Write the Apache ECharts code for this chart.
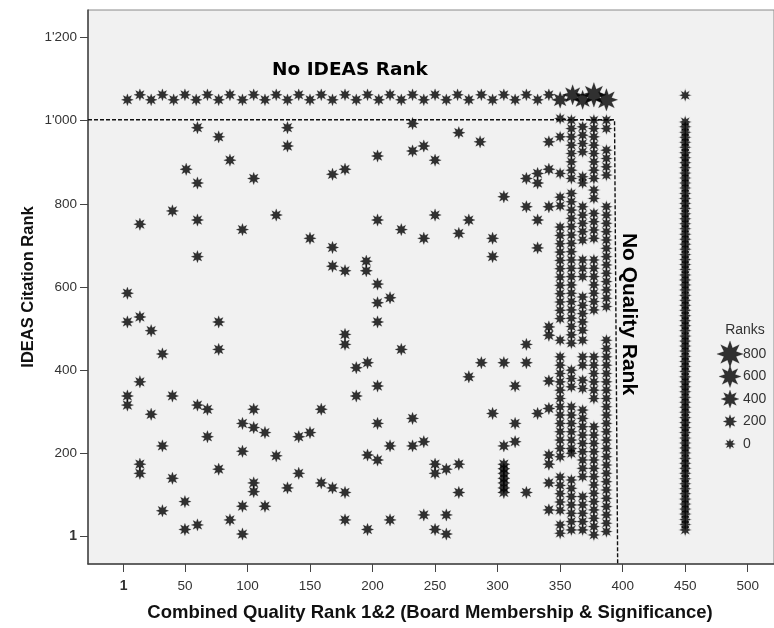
<!DOCTYPE html>
<html><head><meta charset="utf-8">
<script src="https://cdn.jsdelivr.net/npm/echarts@6/dist/echarts.min.js"></script>
<style>html,body{margin:0;padding:0;background:#fff}#c{width:774px;height:628px}</style>
</head><body><div id="c"></div>
<script>
// ---------- data ----------
const xTicks = [1, 50, 100, 150, 200, 250, 300, 350, 400, 450, 500];
const yTicks = [1, 200, 400, 600, 800, 1000, 1200];
const legendRanks = [800, 600, 400, 200, 0];

// cases without an IDEAS rank (top row)
const noIdeasX = [4,14,23,32,41,50,59,68,77,86,96,105,114,123,132,141,150,159,168,178,187,196,205,214,223,232,241,250,259,268,277,287,296,305,314,323,332,341,350,360,368,377,387];
const noIdeasY = [1050,1062,1050,1062,1050,1062,1050,1062,1050,1062,1050,1062,1050,1062,1050,1062,1050,1062,1050,1062,1050,1062,1050,1062,1050,1062,1050,1062,1050,1062,1050,1062,1050,1062,1050,1062,1050,1062,1050,1062,1050,1062,1050];
const noIdeasRank = [120,120,120,120,120,120,120,120,120,120,120,120,120,120,120,120,120,120,120,120,120,120,120,120,120,120,120,120,120,120,120,120,120,120,120,120,120,120,350,520,460,720,620];

// ranked cases (scattered)
const rankedPoints = [
 [4,585],[14,751],[40,783],[51,883],[60,983],[60,850],[60,761],[60,673],[77,961],[86,905],[96,738],[105,861],[123,773],[132,983],[132,939],
 [4,516],[14,528],[23,495],[77,516],[77,450],[32,439],[14,372],[4,338],[4,316],[23,294],[40,338],[60,316],[68,306],[96,272],[105,306],[105,262],[114,250],[68,240],[141,240],[32,218],[96,205],[123,194],[14,174],[14,152],[77,162],[40,140],[105,129],[105,108],[132,117],[141,152],[50,84],[96,73],[114,73],[32,62],[86,40],[50,17],[60,28],[96,6],
 [168,871],[178,883],[204,915],[232,993],[232,927],[241,939],[250,905],[269,971],[286,949],[150,717],[168,695],[168,650],[178,639],[195,662],[195,639],[204,761],[204,607],[204,562],[214,574],[223,738],[241,717],[250,773],[269,729],[277,761],[296,717],[296,673],[305,817],[323,793],[332,761],[332,694],[323,861],[332,850],[332,873],[341,883],[341,949],[341,793],
 [204,516],[178,486],[178,462],[223,450],[187,406],[196,418],[204,362],[187,338],[159,306],[150,250],[204,272],[232,284],[214,218],[232,218],[241,228],[196,196],[204,184],[159,129],[168,117],[178,106],[178,40],[196,17],[214,40],[241,52],[250,17],[259,52],[259,6],[250,174],[250,152],[259,162],[269,174],[269,106],[277,384],[287,418],[305,418],[323,418],[323,462],[296,296],[314,362],[314,272],[314,228],[305,218],[305,174],[305,163],[305,152],[305,140],[305,129],[305,117],[305,106],[323,106],[332,296],[341,308],[341,374],[341,504],[341,484],[341,196],[341,174],[341,129],[341,64]
];

// dense columns of ranked cases
const col350Y = [1005,961,873,816,795,744,724,704,684,664,644,624,604,584,564,544,524,472,432,412,392,372,352,332,312,292,272,252,232,212,192,143,123,103,83,63,28,8];
const col359Y = [1001,981,961,941,921,901,881,861,825,805,785,765,745,725,705,685,665,645,625,605,585,565,545,525,505,485,465,400,380,360,312,292,272,252,232,212,200,136,116,96,76,56,36,16];
const col368Y = [985,965,945,925,865,850,793,773,753,733,713,665,645,625,576,556,536,516,496,472,432,412,376,356,304,284,264,244,224,204,184,164,144,96,76,56,36,16];
const col377Y = [1001,981,961,941,921,901,881,861,833,813,777,757,737,717,665,645,625,605,585,565,545,432,412,392,372,352,332,264,244,224,204,184,164,144,124,104,84,64,44,24,4];
const col387Y = [1001,981,929,909,889,869,793,773,753,733,713,693,673,653,633,613,593,573,553,472,452,432,412,392,372,352,332,312,292,272,252,232,212,192,172,152,132,112,92,72,52,32,12];

// cases without a quality rank (column at 450)
const noQualityY = [1061,997,985,972,960,948,936,923,911,899,887,874,862,850,838,825,813,801,789,776,764,752,740,727,715,703,691,678,666,654,642,629,617,605,593,580,568,556,544,531,519,507,495,482,470,458,446,433,421,409,397,384,372,360,348,335,323,311,299,286,274,262,250,237,225,213,201,188,176,164,152,139,127,115,103,90,78,66,54,41,29,16];

// separator lines (annotation)
const cutLine = [[-27.5,1002],[393.5,1002],[396,-66]];

// ---------- build ----------
function starPath(){
  let d='';
  for(let k=0;k<16;k++){
    const r = k%2 ? 0.5 : 1;
    const a = -Math.PI/2 + k*Math.PI/8;
    d += (k?'L':'M') + (50+50*r*Math.cos(a)).toFixed(2)+' '+(50+50*r*Math.sin(a)).toFixed(2);
  }
  return 'path://'+d+'Z';
}
const STAR = starPath();
const sizeOf = v => Math.max(10.5, 9.5 + v*0.021);
const BASE = 140, COLR = 90;

const pts = [];
noIdeasX.forEach((x,i)=>pts.push([x, noIdeasY[i], noIdeasRank[i]]));
rankedPoints.forEach(p=>pts.push([p[0], p[1], BASE]));
[[350,col350Y],[359,col359Y],[368,col368Y],[377,col377Y],[387,col387Y]].forEach(([x,ys])=>ys.forEach(y=>pts.push([x,y,COLR])));
noQualityY.forEach(y=>pts.push([450,y,COLR]));

const starStyle = {color:'#000', borderColor:'rgba(0,0,0,0.22)', borderWidth:1};
const fmtY = v => v===1 ? '{b|1}' : (v>=1000 ? Math.floor(v/1000)+"'"+String(v%1000).padStart(3,'0') : String(v));
const fmtX = v => v===1 ? '{b|1}' : String(v);
const FONT = 'Liberation Sans, Arial, sans-serif';

const chart = echarts.init(document.getElementById('c'), null, {renderer:'canvas'});
chart.setOption({
  animation:false,
  backgroundColor:'#fff',
  grid:[
    {left:88, right:-2, top:10, bottom:64, show:true, backgroundColor:'#f1f1f1', borderColor:'#8a8a8a', borderWidth:1},
    {left:718, width:24, top:344, height:110, show:false}
  ],
  xAxis:[
    {type:'value', gridIndex:0, min:-27.5, max:521,
     axisLine:{show:true, onZero:false, lineStyle:{color:'#444', width:1.5}},
     axisTick:{show:true, customValues:xTicks, length:8, lineStyle:{color:'#444', width:1}},
     axisLabel:{customValues:xTicks, formatter:fmtX, color:'#333', fontSize:13.5, fontFamily:FONT, margin:15,
                rich:{b:{fontWeight:'bold', fontSize:14, color:'#333', fontFamily:FONT}}},
     splitLine:{show:false}},
    {type:'value', gridIndex:1, min:0, max:1, show:false}
  ],
  yAxis:[
    {type:'value', gridIndex:0, min:-66, max:1266,
     axisLine:{show:true, onZero:false, lineStyle:{color:'#444', width:1.5}},
     axisTick:{show:true, customValues:yTicks, length:8, lineStyle:{color:'#444', width:1}},
     axisLabel:{customValues:yTicks, formatter:fmtY, color:'#333', fontSize:13.5, fontFamily:FONT, margin:11,
                rich:{b:{fontWeight:'bold', fontSize:14, color:'#333', fontFamily:FONT}}},
     splitLine:{show:false}},
    {type:'value', gridIndex:1, min:-89, max:889, position:'right',
     axisLine:{show:false}, axisTick:{show:false}, splitLine:{show:false},
     axisLabel:{customValues:legendRanks, color:'#333', fontSize:14, fontFamily:FONT, margin:1}}
  ],
  series:[
    {type:'line', xAxisIndex:0, yAxisIndex:0, data:cutLine, symbol:'none', silent:true, z:1,
     lineStyle:{color:'#111', width:1.4, type:[4,2]}},
    {type:'scatter', xAxisIndex:0, yAxisIndex:0, data:pts, symbol:STAR,
     symbolSize: d => sizeOf(d[2]), itemStyle:starStyle, z:2},
    {type:'scatter', xAxisIndex:1, yAxisIndex:1, data:legendRanks.map(v=>[0.5,v]), symbol:STAR,
     symbolSize: d => sizeOf(d[1]), itemStyle:starStyle}
  ],
  graphic:[
    {type:'text', x:28, y:287, rotation:Math.PI/2, style:{text:'IDEAS Citation Rank', font:'bold 16.5px '+FONT, fill:'#111', align:'center', verticalAlign:'middle'}},
    {type:'text', x:430, y:613, style:{text:'Combined Quality Rank 1&2 (Board Membership & Significance)', font:'bold 18.5px '+FONT, fill:'#111', align:'center', verticalAlign:'middle'}},
    {type:'text', x:350, y:70, style:{text:'No IDEAS Rank', font:'bold 18.5px DejaVu Sans, Verdana, sans-serif', fill:'#000', align:'center', verticalAlign:'middle'}},
    {type:'text', x:629, y:314, rotation:-Math.PI/2, style:{text:'No Quality Rank', font:'bold 21px '+FONT, fill:'#000', align:'center', verticalAlign:'middle'}},
    {type:'text', x:745, y:330, style:{text:'Ranks', font:'14px '+FONT, fill:'#333', align:'center', verticalAlign:'middle'}}
  ]
});
</script></body></html>
